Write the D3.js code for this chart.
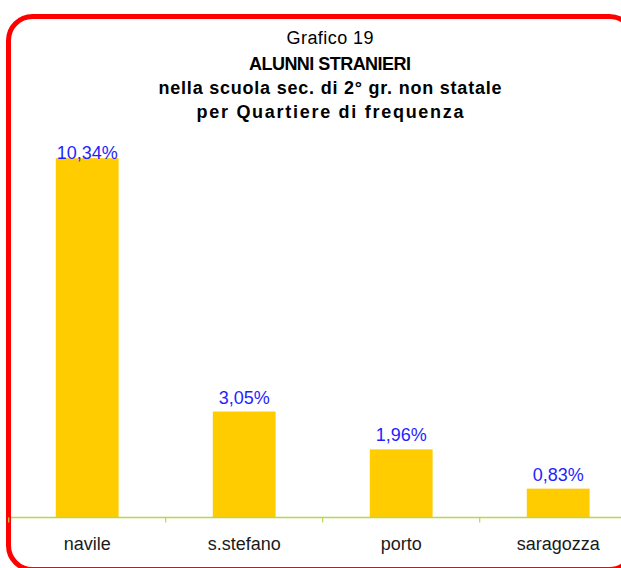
<!DOCTYPE html>
<html>
<head>
<meta charset="utf-8">
<script src="https://cdn.jsdelivr.net/npm/d3@7"></script>
<style>
  html, body { margin: 0; padding: 0; background: #fff; }
  svg { display: block; font-family: Arial, "Liberation Sans", sans-serif; }
</style>
</head>
<body>
<div id="chart"></div>
<script>
// data
const quartieri = ['navile', 's.stefano', 'porto', 'saragozza'];
const percentuali = [10.34, 3.05, 1.96, 0.83];
const titleLines = [
  'Grafico 19',
  'ALUNNI STRANIERI',
  'nella scuola sec. di 2° gr. non statale',
  'per Quartiere di frequenza'
];

const width = 621;
const height = 568;

const $svg = d3.select('#chart').append('svg')
  .attr('width', width)
  .attr('height', height);

// scales
const scaleX = d3.scaleBand()
  .domain(quartieri)
  .range([8.7, 636.7])
  .paddingInner(0.6)
  .paddingOuter(0.3);

const scaleY = d3.scaleLinear()
  .domain([0, 12])
  .range([517.5, 100.5]);

// frame
$svg.append('rect')
  .attr('x', 8.5)
  .attr('y', 16.5)
  .attr('width', 625)
  .attr('height', 553)
  .attr('rx', 24)
  .attr('fill', 'none')
  .attr('stroke', '#ff0000')
  .attr('stroke-width', 5);

// title
const titleStyle = [
  { size: 18, weight: 'normal', y: 44, len: 87 },
  { size: 18, weight: 'bold', y: 69.5, len: 162 },
  { size: 18, weight: 'bold', y: 94, len: 343 },
  { size: 18, weight: 'bold', y: 118, len: 267 }
];
$svg.append('g').attr('class', 'g-title')
  .selectAll('text')
  .data(titleLines)
  .enter()
  .append('text')
  .attr('x', 330)
  .attr('y', (d, i) => titleStyle[i].y)
  .attr('text-anchor', 'middle')
  .attr('font-size', (d, i) => titleStyle[i].size)
  .attr('font-weight', (d, i) => titleStyle[i].weight)
  .attr('textLength', (d, i) => titleStyle[i].len)
  .attr('lengthAdjust', 'spacing')
  .attr('fill', '#000')
  .text(d => d);

// bars
const rows = quartieri.map((q, i) => ({ q, v: percentuali[i] }));

$svg.append('g').attr('class', 'g-bars')
  .selectAll('rect')
  .data(rows)
  .enter()
  .append('rect')
  .attr('x', d => scaleX(d.q))
  .attr('y', d => scaleY(d.v))
  .attr('width', scaleX.bandwidth())
  .attr('height', d => scaleY(0) - scaleY(d.v))
  .attr('fill', '#ffcc00');

// value labels (tallest one sits inside the plot top)
const fmt = v => d3.format('.2f')(v).replace('.', ',') + '%';
$svg.append('g').attr('class', 'g-labels')
  .selectAll('text')
  .data(rows)
  .enter()
  .append('text')
  .attr('x', d => scaleX(d.q) + scaleX.bandwidth() / 2)
  .attr('y', d => Math.max(scaleY(d.v) - 8, 159))
  .attr('text-anchor', 'middle')
  .attr('font-size', 18)
  .attr('fill', '#1f1fff')
  .text(d => fmt(d.v));

// x axis: ticks between categories
const step = scaleX.step();
const x0 = scaleX.range()[0];
const $axis = $svg.append('g').attr('class', 'g-axis');
$axis.append('line')
  .attr('x1', 11).attr('x2', width)
  .attr('y1', scaleY(0)).attr('y2', scaleY(0))
  .attr('stroke', '#b8d846')
  .attr('stroke-width', 1.5);
$axis.selectAll('.tick')
  .data(d3.range(quartieri.length + 1))
  .enter()
  .append('line')
  .attr('class', 'tick')
  .attr('x1', i => x0 + i * step).attr('x2', i => x0 + i * step)
  .attr('y1', scaleY(0)).attr('y2', scaleY(0) + 5)
  .attr('stroke', '#b8d846')
  .attr('stroke-width', 1.2);
$axis.selectAll('.cat')
  .data(quartieri)
  .enter()
  .append('text')
  .attr('class', 'cat')
  .attr('x', d => scaleX(d) + scaleX.bandwidth() / 2)
  .attr('y', 550)
  .attr('text-anchor', 'middle')
  .attr('font-size', 18)
  .attr('fill', '#1a1a1a')
  .text(d => d);
</script>
</body>
</html>
